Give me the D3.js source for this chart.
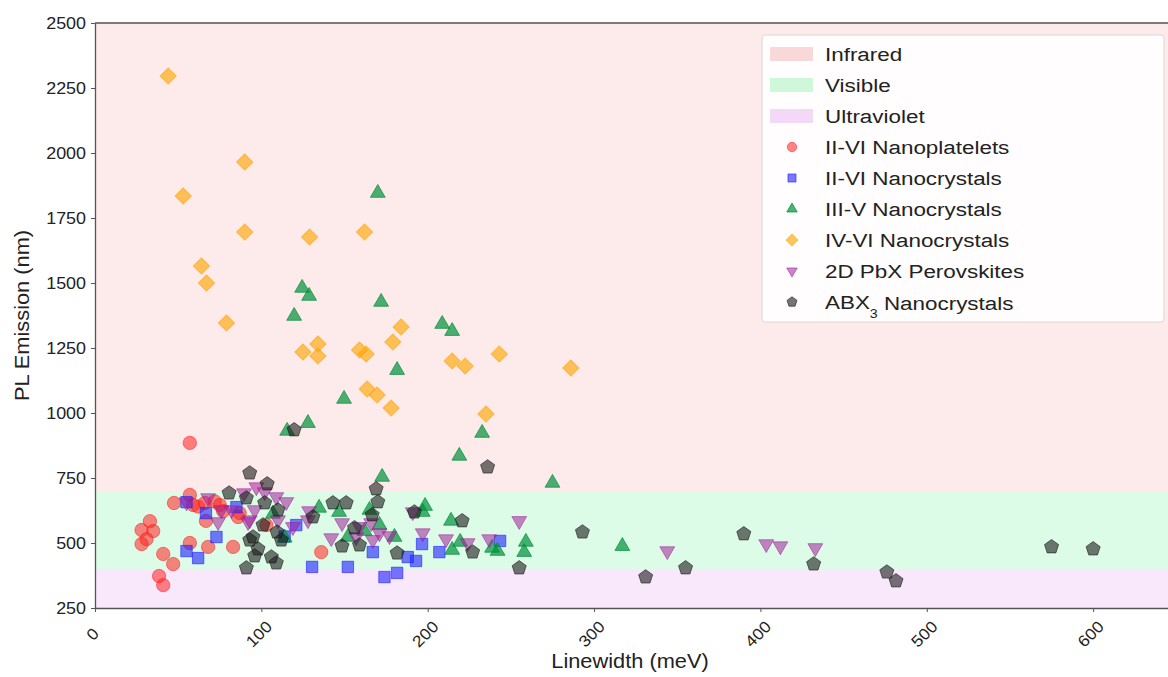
<!DOCTYPE html>
<html>
<head>
<meta charset="utf-8">
<script src="https://d3js.org/d3.v7.min.js"></script>
<style>
  body { margin: 0; background: #fff; }
  svg text { font-family: "Liberation Sans", Arial, sans-serif; fill: #222; }
</style>
</head>
<body>
<div id="chart"></div>
<script>
// spectral bands [name, from, to]
var bands = [
  ["Infrared", 700, 2500],
  ["Visible", 400, 700],
  ["Ultraviolet", 250, 400]
];
var bandColors = ["#fdeaea", "#ddfce7", "#f9e8fc"];
var bandLegendColors = ["#f9d8d8", "#cff8db", "#f4d8f8"];

var xTicks = [0, 100, 200, 300, 400, 500, 600];
var yTicks = [250, 500, 750, 1000, 1250, 1500, 1750, 2000, 2250, 2500];

// [linewidth meV, PL emission nm]
var nanoplatelets = [
  [33, 584], [28, 550], [35, 546], [31, 515], [28, 496], [41, 458], [47, 419],
  [38.5, 373], [41, 338], [47.5, 654], [57, 685], [57, 500], [59, 646], [66, 654],
  [66.7, 585], [68, 485], [75, 646], [83, 485], [77, 623], [86, 600], [87, 615],
  [103, 569], [57, 885], [136, 465], [62, 640], [72, 660]
];
var iiviCrystals = [
  [55, 657], [66.7, 615], [55, 469], [62, 442], [73, 523], [85, 638], [121, 569],
  [130.5, 408], [152, 408], [167, 465], [174, 369], [181.6, 385], [188, 446],
  [193, 431], [196.6, 496], [207, 465], [243.5, 508], [114, 525]
];
var iiivCrystals = [
  [170, 1846], [124.5, 1481], [128.7, 1450], [172, 1427], [119.7, 1373], [208.7, 1342],
  [214.7, 1315], [181.6, 1165], [149.7, 1054], [128, 961], [115.5, 931], [232.7, 923],
  [219, 835], [275, 731], [198.4, 642], [197, 619], [214, 585], [219.5, 504],
  [214.7, 473], [238.7, 481], [242, 469], [259, 504], [258, 465], [317, 488],
  [172.6, 754], [165, 627], [134.7, 635], [146.7, 619], [171, 569], [162, 546],
  [180, 523], [152, 523], [114, 520], [107, 612]
];
var ivviCrystals = [
  [44, 2296], [53, 1835], [90, 1965], [90, 1696], [64, 1565], [67, 1500], [79, 1346],
  [129, 1677], [162, 1696], [125, 1235], [134, 1265], [134, 1219], [159, 1242],
  [163, 1227], [184, 1331], [179, 1273], [163.6, 1092], [169.6, 1069], [178, 1019],
  [214.7, 1200], [222.5, 1181], [243, 1227], [286, 1173], [235, 996]
];
var perovskites2D = [
  [55, 657], [68, 673], [74, 581], [76, 627], [82, 627], [92, 581], [96, 627],
  [89.6, 692], [97, 715], [102, 696], [109, 677], [115, 658], [110, 588], [119, 562],
  [93, 588], [128.7, 623], [128, 588], [142, 519], [148.5, 577], [157, 523],
  [159, 562], [167, 512], [166, 577], [171, 538], [177, 527], [197, 538], [191, 619],
  [211, 515], [224, 500], [237, 515], [255, 585], [344, 469], [403.5, 496],
  [412, 488], [433, 481]
];
var abx3Crystals = [
  [93, 769], [103.5, 727], [80.6, 692], [91, 673], [102, 654], [101, 569], [95, 523],
  [93, 511], [98, 477], [96, 450], [91, 404], [106, 446], [109, 423], [109.4, 542],
  [110, 627], [112, 511], [131, 600], [143, 654], [151, 654], [169, 708], [170, 658],
  [166.6, 608], [156, 558], [159, 492], [148.5, 488], [192, 619], [181.6, 461],
  [220.7, 585], [227, 465], [255, 404], [293, 542], [331, 369], [355, 404], [390, 535],
  [432, 419], [476, 388], [481.5, 354], [575, 485], [600, 477], [119.7, 935], [236, 792]
];

var margin = { top: 23, left: 95, bottom: 69 },
    W = 1168, H = 677,
    width = W - margin.left,
    height = H - margin.top - margin.bottom;

var svg = d3.select("#chart").append("svg")
  .attr("width", W).attr("height", H);
var g = svg.append("g")
  .attr("transform", "translate(" + margin.left + "," + margin.top + ")");

var x = d3.scaleLinear().domain([0, 645]).range([0, width]);
var y = d3.scaleLinear().domain([250, 2500]).range([height, 0]);

// bands
g.selectAll("rect.band").data(bands).enter().append("rect")
  .attr("class", "band")
  .attr("x", 0).attr("width", width)
  .attr("y", d => y(d[2]))
  .attr("height", d => y(d[1]) - y(d[2]))
  .attr("fill", (d, i) => bandColors[i]);

// pentagon symbol (matplotlib "p")
var pentagon = {
  draw: function (ctx, size) {
    var r = Math.sqrt(size / 2.378);
    for (var i = 0; i < 5; i++) {
      var a = -Math.PI / 2 + i * 2 * Math.PI / 5;
      if (i === 0) ctx.moveTo(r * Math.cos(a), r * Math.sin(a));
      else ctx.lineTo(r * Math.cos(a), r * Math.sin(a));
    }
    ctx.closePath();
  }
};

var series = [
  { name: "II-VI Nanoplatelets", data: nanoplatelets, type: d3.symbolCircle, size: 140, rot: 0, fill: "#ff2020", op: 0.55 },
  { name: "II-VI Nanocrystals", data: iiviCrystals, type: d3.symbolSquare, size: 130, rot: 0, fill: "#2020ff", op: 0.6 },
  { name: "III-V Nanocrystals", data: iiivCrystals, type: d3.symbolTriangle, size: 95, rot: 0, fill: "#00903a", op: 0.7 },
  { name: "IV-VI Nanocrystals", data: ivviCrystals, type: d3.symbolSquare, size: 130, rot: 45, fill: "#ffa500", op: 0.62 },
  { name: "2D PbX Perovskites", data: perovskites2D, type: d3.symbolTriangle, size: 95, rot: 180, fill: "#a0209a", op: 0.55 },
  { name: "ABX\u2083 Nanocrystals", data: abx3Crystals, type: pentagon, size: 130, rot: 0, fill: "#1a1a1a", op: 0.6 }
];

series.forEach(function (s) {
  var sym = d3.symbol().type(s.type).size(s.size);
  g.append("g").selectAll("path").data(s.data).enter().append("path")
    .attr("d", sym)
    .attr("transform", d => "translate(" + x(d[0]) + "," + y(d[1]) + ") rotate(" + s.rot + ")")
    .attr("fill", s.fill)
    .attr("fill-opacity", s.op)
    .attr("stroke", s.fill)
    .attr("stroke-opacity", s.op)
    .attr("stroke-width", 1);
});

// axes
var xAxis = g.append("g")
  .attr("transform", "translate(0," + height + ")")
  .call(d3.axisBottom(x).tickValues(xTicks).tickSize(4).tickSizeOuter(0));
xAxis.selectAll("text")
  .style("font-size", "16px")
  .attr("text-anchor", "middle")
  .attr("dy", "0.35em")
  .attr("y", 0)
  .attr("transform", "translate(-3,26) rotate(-45) scale(1.1,1)");

var yAxis = g.append("g")
  .call(d3.axisLeft(y).tickValues(yTicks).tickSize(4).tickSizeOuter(0).tickFormat(d3.format("d")));
yAxis.selectAll("text").style("font-size", "16px").attr("x", 0)
  .attr("transform", "translate(-9,0) scale(1.12,1)");

[xAxis, yAxis].forEach(function (a) {
  a.select(".domain").attr("stroke", "#555").attr("stroke-width", 1.3);
  a.selectAll(".tick line").attr("stroke", "#555");
});
g.append("line").attr("x1", 0).attr("x2", width).attr("y1", 0).attr("y2", 0)
  .attr("stroke", "#555").attr("stroke-width", 1.3);

// axis labels
svg.append("text")
  .attr("transform", "translate(630,668) scale(1.09,1)")
  .attr("text-anchor", "middle")
  .style("font-size", "20px")
  .text("Linewidth (meV)");
svg.append("text")
  .attr("transform", "translate(29," + (margin.top + height / 2) + ") rotate(-90) scale(1.09,1)")
  .attr("text-anchor", "middle")
  .style("font-size", "20px")
  .text("PL Emission (nm)");

// legend
var lg = svg.append("g").attr("transform", "translate(762,35)");
lg.append("rect").attr("width", 402).attr("height", 287)
  .attr("rx", 3).attr("fill", "#fff").attr("fill-opacity", 0.9)
  .attr("stroke", "#d8d8d8");
var rowH = 31;
function legendText(i) {
  return lg.append("text")
    .attr("transform", "translate(63," + (19 + i * rowH) + ") scale(1.18,1)")
    .attr("dy", "0.35em")
    .style("font-size", "19px");
}
bands.forEach(function (b, i) {
  lg.append("rect").attr("x", 8).attr("y", 12 + i * rowH).attr("width", 43).attr("height", 14)
    .attr("fill", bandLegendColors[i]);
  legendText(i).text(b[0]);
});
series.forEach(function (s, j) {
  var i = j + 3;
  var sym = d3.symbol().type(s.type).size(s.size * 0.5);
  lg.append("path").attr("d", sym)
    .attr("transform", "translate(30," + (19 + i * rowH) + ") rotate(" + s.rot + ")")
    .attr("fill", s.fill).attr("fill-opacity", s.op)
    .attr("stroke", s.fill).attr("stroke-opacity", s.op);
  var t = legendText(i);
  if (j === 5) {
    t.append("tspan").text("ABX");
    t.append("tspan").attr("dy", "0.75em").style("font-size", "12px").text("3");
    t.append("tspan").attr("dy", "-0.4em").text(" Nanocrystals");
  } else {
    t.text(s.name);
  }
});
</script>
</body>
</html>
